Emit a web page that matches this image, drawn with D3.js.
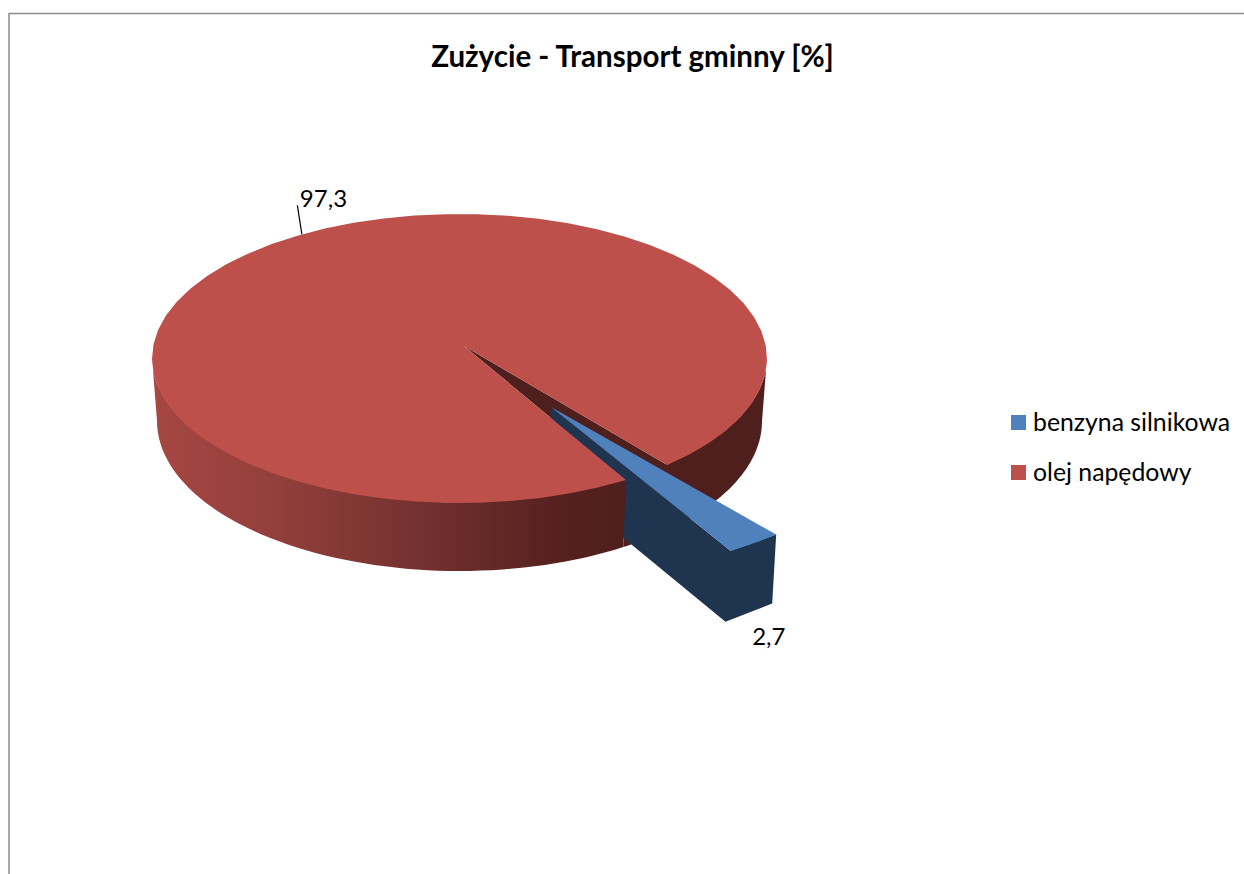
<!DOCTYPE html>
<html>
<head>
<meta charset="utf-8">
<script src="https://cdn.jsdelivr.net/npm/d3@7"></script>
<style>
  html, body { margin: 0; padding: 0; background: #fff; }
  svg { display: block; }
  text { font-family: Lato, "Open Sans", sans-serif; fill: #000; }
</style>
</head>
<body>
<script>
// chart values
const categories = ['benzyna silnikowa', 'olej napędowy']
const values = [2.7, 97.3]
const valueLabels = ['2,7', '97,3']
const colors = ['#4f81bd', '#be504c']
const sideColors = ['#1f344f', '#4f1f1d']
const chartTitle = 'Zużycie - Transport gminny [%]'

const width = 1244, height = 874

let svg = d3.select('body').append('svg')
    .attr('width', width)
    .attr('height', height)

// chart frame
svg.append('path')
    .attr('d', 'M9,874V13.5H1244')
    .attr('fill', 'none')
    .attr('stroke', '#8c8c8c')
    .attr('stroke-width', 1.5)

svg.append('text')
    .attr('x', 632.5)
    .attr('y', 67)
    .attr('text-anchor', 'middle')
    .attr('font-size', 29.5)
    .attr('font-weight', 700)
    .text(chartTitle)

// the first slice starts at 137.5 degrees, clockwise from 12 o'clock
const start = 137.5 * Math.PI / 180
const slices = d3.pie().sort(null).startAngle(start).endAngle(start + 2 * Math.PI)(values)
const blue = slices[0], red = slices[1]

// top and bottom rims of the disc, the bottom is a little off because of the perspective
const topX = d3.scaleLinear().domain([-1, 1]).range([152, 767])
const topY = d3.scaleLinear().domain([-1, 1]).range([214, 503])
const botX = d3.scaleLinear().domain([-1, 1]).range([157, 762])
const botY = d3.scaleLinear().domain([-1, 1]).range([271, 571])

const apex = [464, 346]
const rimTop = a => [topX(Math.sin(a)), topY(-Math.cos(a))]
const rimBot = a => [botX(Math.sin(a)), botY(-Math.cos(a))]
// walls start 1px under the top face so no white seam shows
const rimWall = a => [topX(Math.sin(a)), topY(-Math.cos(a)) - 1]
const sweep = (from, to, fn) => d3.range(0, 61).map(i => fn(from + (to - from) * i / 60))
const line = d3.line()

const defs = svg.append('defs')
const frontGrad = defs.append('linearGradient')
    .attr('id', 'front')
    .attr('gradientUnits', 'userSpaceOnUse')
    .attr('x1', topX(-1)).attr('x2', rimTop(blue.endAngle)[0])
    .attr('y1', 0).attr('y2', 0)
const gradStops = [[0, '#a64743'], [0.25, '#943f3b'], [0.55, '#753230'], [0.85, '#56211f'], [1, '#4f1f1d']]
frontGrad.selectAll('stop').data(gradStops).enter().append('stop')
    .attr('offset', d => d[0])
    .attr('stop-color', d => d[1])

// back wall on the right, seen through the gap
const rightA = Math.PI / 2
svg.append('path')
    .attr('d', line(sweep(rightA, blue.endAngle, rimWall).concat(sweep(blue.endAngle, rightA, rimBot))) + 'Z')
    .attr('fill', sideColors[1])

// inner wall of the gap
svg.append('path')
    .attr('d', line([apex, rimTop(blue.startAngle), rimTop(blue.endAngle)]) + 'Z')
    .attr('fill', sideColors[1])

// exploded slice, the far end is drawn bigger than the gap (perspective)
const wedgeApex = [551, 407]
const wedgeScale = [1.108, 1.072]
const wedgeRim = a => {
    const p = rimTop(a)
    return [wedgeApex[0] + (p[0] - apex[0]) * wedgeScale[0], wedgeApex[1] + (p[1] - apex[1]) * wedgeScale[1]]
}
const wedgeArc = sweep(blue.startAngle, blue.endAngle, wedgeRim)
const wedgeFirst = wedgeArc[0], wedgeLast = wedgeArc[wedgeArc.length - 1]
const down = (p, d, dx) => [p[0] + dx, p[1] + d]

// its sides as one shape, the top face covers the rest
svg.append('path')
    .attr('d', line([wedgeApex, wedgeLast, wedgeFirst, down(wedgeFirst, 69, -4),
        down(wedgeLast, 71, -5), down(wedgeApex, 69, -3)]) + 'Z')
    .attr('fill', sideColors[0])
svg.append('path')
    .attr('d', line([wedgeApex].concat(wedgeArc)) + 'Z')
    .attr('fill', colors[0])

// front wall of the big slice
svg.append('path')
    .attr('d', line(sweep(blue.endAngle, 1.5 * Math.PI, rimWall).concat(sweep(1.5 * Math.PI, blue.endAngle, rimBot))) + 'Z')
    .attr('fill', 'url(#front)')

// top of the big slice
svg.append('path')
    .attr('d', line([apex].concat(sweep(red.startAngle, red.endAngle, rimTop))) + 'Z')
    .attr('fill', colors[1])

// data labels
const leaderShift = 6.8 * Math.PI / 180
const leaderEnd = rimTop((red.startAngle + red.endAngle) / 2 + leaderShift)
svg.append('line')
    .attr('x1', leaderEnd[0]).attr('y1', leaderEnd[1])
    .attr('x2', leaderEnd[0] - 4.5).attr('y2', leaderEnd[1] - 29)
    .attr('stroke', '#000')
    .attr('stroke-width', 1.2)
svg.append('text')
    .attr('x', leaderEnd[0] - 2)
    .attr('y', leaderEnd[1] - 27)
    .attr('font-size', 24)
    .text(valueLabels[1])
svg.append('text')
    .attr('x', wedgeFirst[0] - 24)
    .attr('y', wedgeFirst[1] + 110)
    .attr('font-size', 24)
    .text(valueLabels[0])

// legend
const legendY = d3.scalePoint().domain(categories).range([423, 473])
const legend = svg.selectAll('g.legend').data(categories).enter().append('g')
    .attr('class', 'legend')
    .attr('transform', d => 'translate(1011,' + legendY(d) + ')')
legend.append('rect')
    .attr('x', 0).attr('y', -8)
    .attr('width', 15).attr('height', 15)
    .attr('fill', (d, i) => colors[i])
legend.append('text')
    .attr('x', 22)
    .attr('y', 8)
    .attr('font-size', 24.8)
    .text(d => d)
</script>
</body>
</html>
